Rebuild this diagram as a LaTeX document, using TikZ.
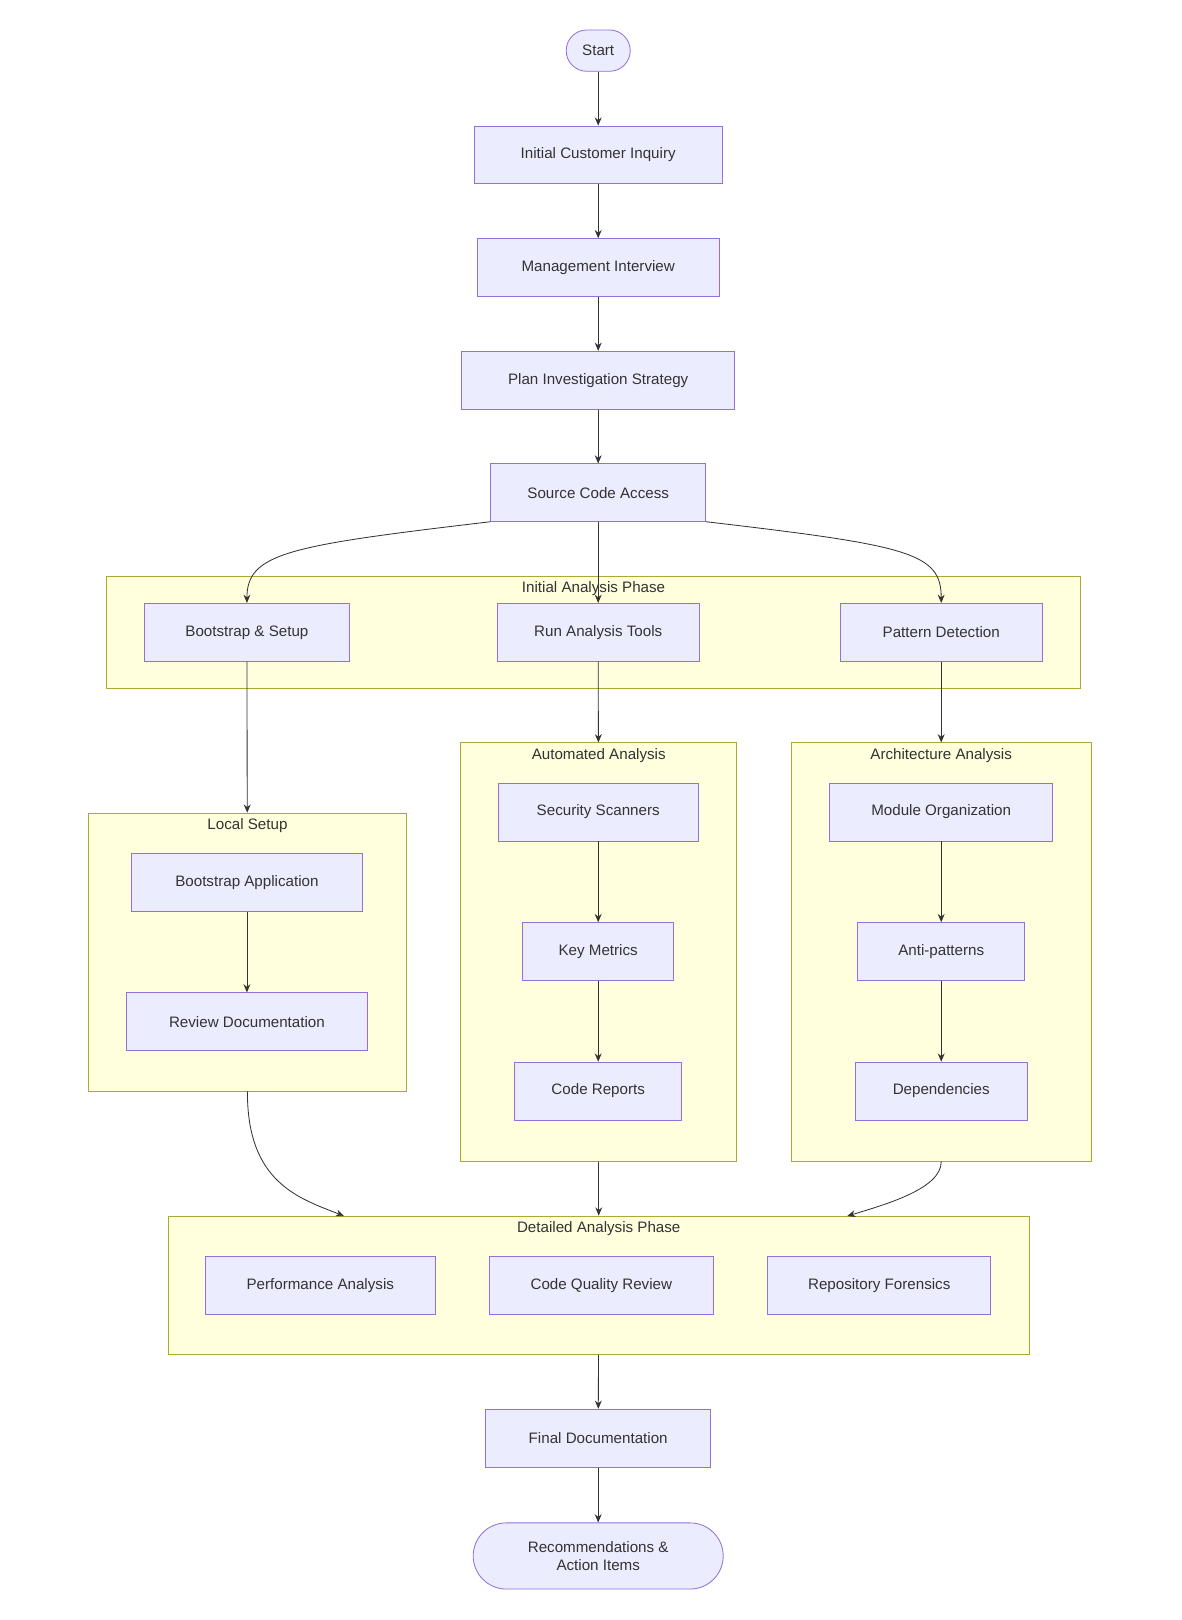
\documentclass[tikz,border=0pt]{standalone}
\usepackage{fontspec}
\setmainfont{Liberation Sans}
\usetikzlibrary{arrows.meta}
\definecolor{boxfill}{HTML}{ECECFF}
\definecolor{boxline}{HTML}{9370DB}
\definecolor{grpfill}{HTML}{FFFFDE}
\definecolor{grpline}{HTML}{AAAA33}
\definecolor{arrline}{HTML}{333333}
\tikzset{
  box/.style={draw=boxline, fill=boxfill, line width=0.6pt, minimum height=42pt,
    font=\fontsize{11}{13}\selectfont, text=arrline},
  term/.style={box, rounded corners=15pt},
  grp/.style={draw=grpline, fill=grpfill, line width=0.6pt},
  grplbl/.style={font=\fontsize{11}{13}\selectfont, text=arrline},
  arr/.style={draw=arrline, line width=0.6pt, -{Stealth[length=6pt,width=5pt]}}
}
\newcommand\bx[5]{\node[box, minimum width=#4*0.75pt] (#1) at (#2,#3) {#5};}
\newcommand\grp[6]{% name, x0, y0, x1, y1, title
  \node[grp, minimum width=(#4-#2)*0.75pt, minimum height=(#5-#3)*0.75pt, inner sep=0pt]
    (#1) at ({(#2+#4)/2},{(#3+#5)/2}) {};
  \node[grplbl] (#1lbl) at ({(#2+#4)/2},#3+12) {#6};}
\begin{document}
\begin{tikzpicture}[x=0.75pt, y=-0.75pt]
  \useasboundingbox[fill=white] (0,0) rectangle (1144,1568);

  % groups first, boxes on top
  \grp{initial}{103}{558}{1046}{666}{Initial Analysis Phase}
  \grp{local}{86}{787}{393}{1056}{Local Setup}
  \grp{auto}{446}{719}{713}{1124}{Automated Analysis}
  \grp{arch}{766}{719}{1056}{1124}{Architecture Analysis}
  \grp{detail}{163}{1177}{996}{1311}{Detailed Analysis Phase}

  \node[term, minimum width=62*0.75pt, minimum height=30pt] (start) at (579,49) {Start};
  \bx{inq}{579}{150}{240}{Initial Customer Inquiry}
  \bx{mgmt}{579}{259}{234}{Management Interview}
  \bx{plan}{579}{368}{264}{Plan Investigation Strategy}
  \bx{src}{579}{477}{208}{Source Code Access}

  \bx{boot}{239}{612}{198}{Bootstrap \& Setup}
  \bx{run}{579}{612}{196}{Run Analysis Tools}
  \bx{pat}{911}{612}{196}{Pattern Detection}

  \bx{bapp}{239}{854}{224}{Bootstrap Application}
  \bx{rdoc}{239}{989}{234}{Review Documentation}

  \bx{sec}{579}{786}{194}{Security Scanners}
  \bx{km}{579}{921}{146}{Key Metrics}
  \bx{cr}{579}{1056}{162}{Code Reports}

  \bx{mod}{911}{786}{216}{Module Organization}
  \bx{anti}{911}{921}{162}{Anti-patterns}
  \bx{dep}{911}{1056}{166}{Dependencies}

  \bx{perf}{310}{1244}{222}{Performance Analysis}
  \bx{cqr}{582}{1244}{217}{Code Quality Review}
  \bx{rf}{851}{1244}{216}{Repository Forensics}

  \bx{final}{579}{1392}{218}{Final Documentation}
  \node[term, minimum width=242*0.75pt, minimum height=48pt, rounded corners=24pt,
    align=center] (rec) at (579,1506) {Recommendations \&\\Action Items};

  \coordinate (dl) at (333,1177);
  \coordinate (dr) at (820,1177);

  \draw[arr] (start) -- (inq);
  \draw[arr] (inq) -- (mgmt);
  \draw[arr] (mgmt) -- (plan);
  \draw[arr] (plan) -- (src);
  \draw[arr] (src.195) .. controls (280,528) and (239,535) .. (boot.north);
  \draw[arr] (src) -- (run);
  \draw[arr] (src.-15) .. controls (880,528) and (911,535) .. (pat.north);
  \draw[arr] (boot) -- (local);
  \draw[arr] (run) -- (auto);
  \draw[arr] (pat) -- (arch);
  \draw[arr] (bapp) -- (rdoc);
  \draw[arr] (sec) -- (km);
  \draw[arr] (km) -- (cr);
  \draw[arr] (mod) -- (anti);
  \draw[arr] (anti) -- (dep);
  \draw[arr] (local.south) .. controls (239,1145) and (290,1160) .. (dl);
  \draw[arr] (auto) -- (detail);
  \draw[arr] (arch.south) .. controls (911,1150) and (860,1165) .. (dr);
  \draw[arr] (detail) -- (final);
  \draw[arr] (final) -- (rec);
\end{tikzpicture}
\end{document}
